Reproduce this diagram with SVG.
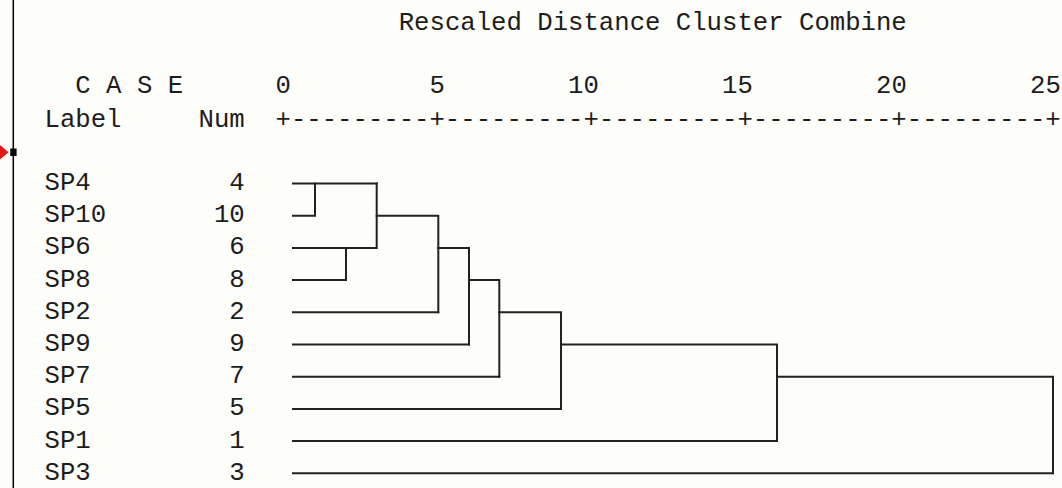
<svg xmlns="http://www.w3.org/2000/svg" width="1062" height="488" viewBox="0 0 1062 488">
  <style>
    .t { font-family: "Liberation Mono", "Courier New", monospace; font-size: 25.67px; fill: #1c1c1c; }
    .e { text-anchor: end; }
    .ln { fill: none; stroke: #222; stroke-width: 2; stroke-linecap: square; }
  </style>
  <!-- page background -->
  <rect x="0" y="0" width="1062" height="488" fill="#fdfdfa"/>

  <!-- window frame edge with split marker -->
  <g id="frame">
    <line x1="13.3" y1="0" x2="13.3" y2="488" stroke="#000" stroke-width="1.5"/>
    <polygon points="0,145 8.5,152.2 0,159.5" fill="#e01818"/>
    <rect x="10.3" y="148.5" width="6.3" height="7.5" fill="#000"/>
  </g>

  <!-- header -->
  <g id="header">
    <text class="t" x="398.7" y="29.5">Rescaled Distance Cluster Combine</text>
    <text class="t" x="75.3" y="93">C A S E</text>
    <text class="t" x="44.5" y="126.5">Label</text>
    <text class="t" x="198.5" y="126.5">Num</text>
  </g>

  <!-- distance scale -->
  <g id="scale">
    <text class="t" x="275.5" y="93">0</text>
    <text class="t" x="429.5" y="93">5</text>
    <text class="t" x="568.1" y="93">10</text>
    <text class="t" x="722.1" y="93">15</text>
    <text class="t" x="876.1" y="93">20</text>
    <text class="t" x="1030.1" y="93">25</text>
    <text class="t" x="275.5" y="126.5">+---------+---------+---------+---------+---------+</text>
  </g>

  <!-- cases: label and number per row -->
  <g id="case-SP4"><text class="t" x="44.5" y="190">SP4</text><text class="t e" x="244.7" y="190">4</text></g>
  <g id="case-SP10"><text class="t" x="44.5" y="222.2">SP10</text><text class="t e" x="244.7" y="222.2">10</text></g>
  <g id="case-SP6"><text class="t" x="44.5" y="254.4">SP6</text><text class="t e" x="244.7" y="254.4">6</text></g>
  <g id="case-SP8"><text class="t" x="44.5" y="286.6">SP8</text><text class="t e" x="244.7" y="286.6">8</text></g>
  <g id="case-SP2"><text class="t" x="44.5" y="318.8">SP2</text><text class="t e" x="244.7" y="318.8">2</text></g>
  <g id="case-SP9"><text class="t" x="44.5" y="351">SP9</text><text class="t e" x="244.7" y="351">9</text></g>
  <g id="case-SP7"><text class="t" x="44.5" y="383.2">SP7</text><text class="t e" x="244.7" y="383.2">7</text></g>
  <g id="case-SP5"><text class="t" x="44.5" y="415.4">SP5</text><text class="t e" x="244.7" y="415.4">5</text></g>
  <g id="case-SP1"><text class="t" x="44.5" y="447.6">SP1</text><text class="t e" x="244.7" y="447.6">1</text></g>
  <g id="case-SP3"><text class="t" x="44.5" y="479.8">SP3</text><text class="t e" x="244.7" y="479.8">3</text></g>

  <!-- dendrogram links -->
  <g id="connectors" class="ln">
    <path d="M293 183.5 H376.7"/>
    <path d="M293 215.7 H315 V183.5"/>
    <path d="M293 247.9 H376.7 V183.5"/>
    <path d="M293 280.1 H346 V247.9"/>
    <path d="M376.7 215.7 H438.3 V312.3"/>
    <path d="M293 312.3 H438.3"/>
    <path d="M438.3 247.9 H469 V344.5"/>
    <path d="M293 344.5 H469"/>
    <path d="M469 280.1 H499.3 V376.7"/>
    <path d="M293 376.7 H499.3"/>
    <path d="M499.3 312.3 H561 V408.9"/>
    <path d="M293 408.9 H561"/>
    <path d="M561 344.5 H777 V441.1"/>
    <path d="M293 441.1 H777"/>
    <path d="M777 376.7 H1053 V473.3"/>
    <path d="M293 473.3 H1053"/>
  </g>
</svg>
